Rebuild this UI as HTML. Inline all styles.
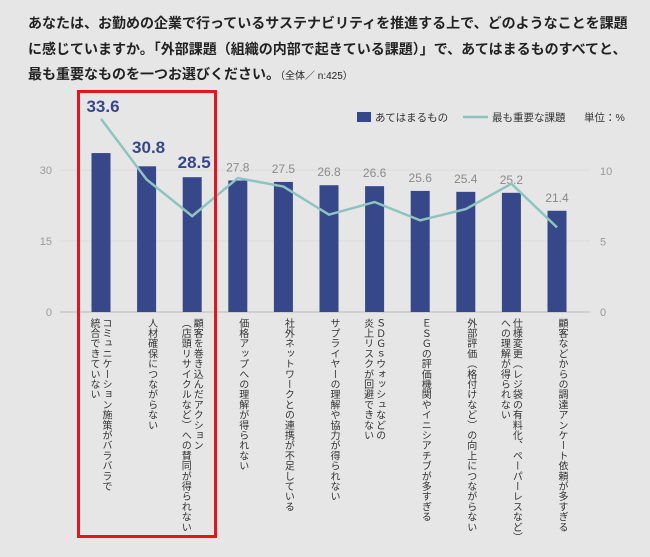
<!DOCTYPE html>
<html><head><meta charset="utf-8">
<style>
body{margin:0;width:650px;height:557px;background:#e6e6e6;font-family:"Liberation Sans","Noto Sans CJK JP",sans-serif;overflow:hidden;position:relative}
.title{position:absolute;left:28px;top:11px;font-size:14px;font-weight:bold;line-height:25.5px;color:#222;white-space:nowrap;letter-spacing:0}
.title small{font-size:10px;font-weight:normal}
.xl{position:absolute;top:318px;writing-mode:vertical-rl;font-size:10px;line-height:12px;color:#333;letter-spacing:0.2px;white-space:nowrap}
</style></head><body>
<div class="title">あなたは、お勤めの企業で行っているサステナビリティを推進する上で、どのようなことを課題<br>に感じていますか。「外部課題（組織の内部で起きている課題）」で、あてはまるものすべてと、<br>最も重要なものを一つお選びください。<small>（全体／ n:425）</small></div>
<svg id="chart" width="650" height="557" style="position:absolute;left:0;top:0"></svg>
<div id="labels"></div>
<script>
const categories=["コミュニケーション施策がバラバラで<br>統合できていない","人材確保につながらない","顧客を巻き込んだアクション<br>（店頭リサイクルなど）への賛同が得られない","価格アップへの理解が得られない","社外ネットワークとの連携が不足している","サプライヤーの理解や協力が得られない","ＳＤＧｓウォッシュなどの<br>炎上リスクが回避できない","ＥＳＧの評価機関やイニシアチブが多すぎる","外部評価（格付けなど）の向上につながらない","仕様変更（レジ袋の有料化、ペーパーレスなど）<br>への理解が得られない","顧客などからの調達アンケート依頼が多すぎる"];
const barValues=[33.6,30.8,28.5,27.8,27.5,26.8,26.6,25.6,25.4,25.2,21.4];
const lineValues=[13.7,9.4,6.8,9.5,8.9,6.9,7.8,6.5,7.3,9.1,6.0];
const leftTicks=[0,15,30];
const rightTicks=[0,5,10];
const NS="http://www.w3.org/2000/svg";
const svg=document.getElementById('chart');
const y0=312;
const yL=v=>y0-v*4.73;
const yR=v=>y0-v*14.1;
const xC=i=>101+i*45.6;
function el(t,a){const e=document.createElementNS(NS,t);for(const k in a)e.setAttribute(k,a[k]);svg.appendChild(e);return e;}
leftTicks.forEach((t,i)=>{
  if(t>0){const g=el('line',{x1:60,x2:590,y1:yL(t),y2:yL(t),stroke:'#dcdcdc','stroke-width':1});
  
  }
  const tx=el('text',{x:52,y:yL(t)+4,'text-anchor':'end','font-size':11,fill:'#999'});tx.textContent=t;
  
  
});
rightTicks.forEach(t=>{
  const tx=el('text',{x:600,y:yR(t)+4,'font-size':11,fill:'#999'});tx.textContent=t;
  
  
});
const ax=el('line',{x1:60,x2:590,y1:y0,y2:y0,stroke:'#c8c8c8','stroke-width':1.5});


barValues.forEach((v,i)=>{
  const r=el('rect',{x:xC(i)-9.5,y:yL(v),width:19,height:y0-yL(v),fill:'#36478a'});
  
  
  const big=i<3;
  const t=el('text',{x:xC(i)+(big?2:0),y:big?[112,153,168][i]:yL(v)-9,'text-anchor':'middle','font-size':big?17:12,'font-weight':big?'bold':'normal',fill:big?'#36478a':'#8a8a8a'});
  t.textContent=v.toFixed(1);
  
  
});
const pl=el('polyline',{points:lineValues.map((v,i)=>xC(i)+','+yR(v)).join(' '),fill:'none',stroke:'#8ec4c0','stroke-width':2.5});


const box=el('rect',{x:78.5,y:91.5,width:137,height:445,fill:'none',stroke:'#e8141b','stroke-width':3});


const lb=el('rect',{x:357,y:112,width:14,height:10,fill:'#36478a'});


const lt1=el('text',{x:375,y:121,'font-size':10.5,fill:'#333'});lt1.textContent='あてはまるもの';


const ll=el('line',{x1:463,x2:488,y1:117,y2:117,stroke:'#8ec4c0','stroke-width':2.5});


const lt2=el('text',{x:492,y:121,'font-size':10.5,fill:'#333'});lt2.textContent='最も重要な課題';


const lt3=el('text',{x:584,y:121,'font-size':10.5,fill:'#333'});lt3.textContent='単位：%';


const lab=document.getElementById('labels');
categories.forEach((c,i)=>{
  const d=document.createElement('div');
  d.className='xl';
  d.innerHTML=c;
  
  
  lab.appendChild(d);
  const w=d.offsetWidth;
  d.style.left=(xC(i)+10-w)+'px';
});
</script>
</body></html>
